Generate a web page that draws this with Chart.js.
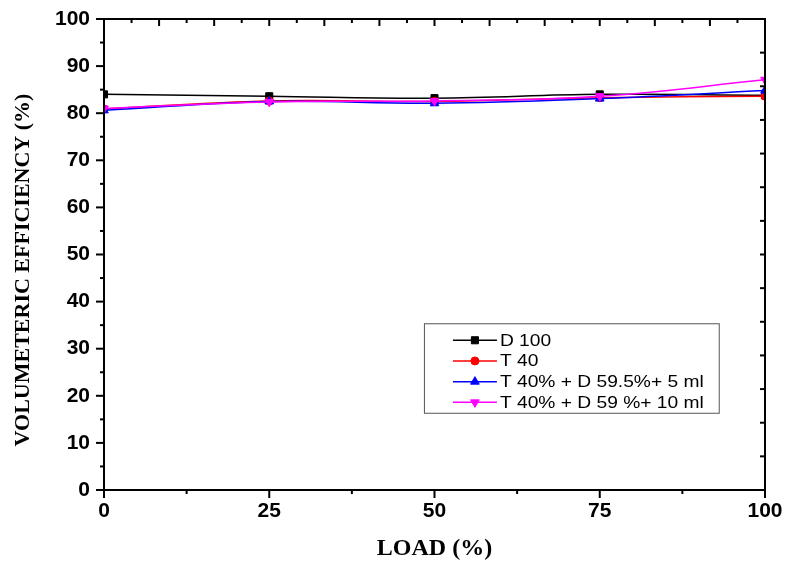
<!DOCTYPE html>
<html>
<head>
<meta charset="utf-8">
<title>Volumetric efficiency vs load</title>
<script src="https://cdn.jsdelivr.net/npm/chart.js@4.4.1/dist/chart.umd.min.js"></script>
<style>
    html, body { margin: 0; padding: 0; background: #fff; }
    #wrap { width: 785px; height: 562px; }
</style>
</head>
<body>
<div id="wrap"><canvas id="veChart" width="785" height="562"></canvas></div>
<script>
// Data
const loads = [0, 25, 50, 75, 100];
const d100 = [84.0, 83.6, 83.2, 84.0, 83.8];
const t40 = [80.9, 82.6, 82.5, 83.3, 83.6];
const t40d595 = [80.6, 82.5, 82.1, 83.1, 84.8];
const t40d59 = [81.0, 82.4, 82.6, 83.6, 87.1];

const seriesLabels = ['D 100', 'T 40', 'T 40% + D 59.5%+ 5 ml', 'T 40% + D 59 %+ 10 ml'];
const xTicks = [0, 25, 50, 75, 100];
const yTicks = [0, 10, 20, 30, 40, 50, 60, 70, 80, 90, 100];
const yTitle = 'VOLUMETERIC EFFICIENCY (%)';

function toPoints(values) {
    return loads.map((x, i) => ({ x: x, y: values[i] }));
}

function makeSet(label, values, color, style, radius, rotation, order) {
    return {
        label: label,
        data: toPoints(values),
        borderColor: color,
        backgroundColor: color,
        borderWidth: 1.5,
        pointStyle: style,
        pointRadius: radius,
        pointRotation: rotation,
        pointBorderWidth: 1,
        pointBackgroundColor: color,
        pointBorderColor: color,
        tension: 0.4,
        order: order
    };
}

// don't let tick label overflow push the plot area in
function fixPadding(scale) {
    scale.paddingTop = 0;
    scale.paddingBottom = 0;
    scale.paddingLeft = 0;
    scale.paddingRight = 0;
}

// Frame, tick marks, y title and the boxed legend inside the plot
const framePlugin = {
    id: 'frame',
    afterDraw(chart) {
        const ctx = chart.ctx;
        const a = chart.chartArea;
        const xs = chart.scales.x;
        const ys = chart.scales.y;
        ctx.save();
        ctx.strokeStyle = '#000';
        ctx.lineWidth = 2;

        // ticks on left axis (outward)
        for (let v = 0; v <= 100; v += 5) {
            const py = ys.getPixelForValue(v);
            const len = v % 10 === 0 ? 8 : 4;
            ctx.beginPath();
            ctx.moveTo(a.left, py);
            ctx.lineTo(a.left - len, py);
            ctx.stroke();
        }
        // ticks on bottom axis (outward)
        for (let v = 0; v <= 100; v += 12.5) {
            const px = xs.getPixelForValue(v);
            const len = v % 25 === 0 ? 8 : 4;
            ctx.beginPath();
            ctx.moveTo(px, a.bottom);
            ctx.lineTo(px, a.bottom + len);
            ctx.stroke();
        }
        // top axis ticks (inward)
        for (let k = 1; k < 24; k++) {
            const px = xs.getPixelForValue(k * 100 / 24);
            const len = k % 2 === 0 ? 7 : 4;
            ctx.beginPath();
            ctx.moveTo(px, a.top);
            ctx.lineTo(px, a.top + len);
            ctx.stroke();
        }
        // right axis ticks (inward)
        for (let k = 1; k < 14; k++) {
            const py = ys.getPixelForValue(100 - k * 100 / 14);
            ctx.beginPath();
            ctx.moveTo(a.right, py);
            ctx.lineTo(a.right - 5, py);
            ctx.stroke();
        }
        ctx.strokeRect(a.left, a.top, a.right - a.left, a.bottom - a.top);

        // y axis title
        ctx.save();
        ctx.translate(23, 270);
        ctx.rotate(-Math.PI / 2);
        ctx.fillStyle = '#000';
        ctx.font = 'bold 22px "Liberation Serif", "Times New Roman", serif';
        ctx.textAlign = 'center';
        ctx.textBaseline = 'middle';
        ctx.fillText(yTitle, 0, 0);
        ctx.restore();

        // legend box
        const bx = xs.getPixelForValue(48.4);
        const bw = xs.getPixelForValue(93.0) - bx;
        const by = ys.getPixelForValue(35.4);
        const bh = ys.getPixelForValue(16.4) - by;
        ctx.fillStyle = '#fff';
        ctx.fillRect(bx, by, bw, bh);
        ctx.lineWidth = 1;
        ctx.strokeStyle = '#555';
        ctx.strokeRect(bx + 0.5, by + 0.5, bw, bh);

        chart.data.datasets.forEach((ds, i) => {
            const rowY = by + 17 + i * 20.7;
            const lx = bx + 29;
            ctx.strokeStyle = ds.borderColor;
            ctx.lineWidth = 1.5;
            ctx.beginPath();
            ctx.moveTo(lx, rowY);
            ctx.lineTo(lx + 44, rowY);
            ctx.stroke();
            ctx.fillStyle = ds.borderColor;
            ctx.lineWidth = 1;
            Chart.helpers.drawPoint(ctx, {
                pointStyle: ds.pointStyle,
                rotation: ds.pointRotation,
                radius: ds.pointRadius,
                borderWidth: 1
            }, lx + 22, rowY);
            ctx.save();
            ctx.translate(lx + 47, rowY);
            ctx.scale(1.2, 1);
            ctx.fillStyle = '#000';
            ctx.font = '16px "Liberation Sans", Arial, sans-serif';
            ctx.textBaseline = 'middle';
            ctx.textAlign = 'left';
            ctx.fillText(ds.label, 0, 1);
            ctx.restore();
        });
        ctx.restore();
    }
};

const tickFont = { family: '"Liberation Sans", Arial, sans-serif', size: 21, weight: 'bold' };

new Chart(document.getElementById('veChart').getContext('2d'), {
    type: 'line',
    data: {
        datasets: [
            makeSet(seriesLabels[0], d100, '#000000', 'rect', 5, 0, 3),
            makeSet(seriesLabels[1], t40, '#ff0000', 'circle', 4, 0, 2),
            makeSet(seriesLabels[2], t40d595, '#0000ff', 'triangle', 5, 0, 1),
            makeSet(seriesLabels[3], t40d59, '#ff00ff', 'triangle', 5, 180, 0)
        ]
    },
    options: {
        responsive: false,
        animation: false,
        layout: { padding: { top: 19, right: 20, left: 0, bottom: 0 } },
        plugins: {
            legend: { display: false },
            tooltip: { enabled: false }
        },
        scales: {
            x: {
                type: 'linear',
                min: 0,
                max: 100,
                afterFit: scale => { scale.height = 72; fixPadding(scale); },
                afterBuildTicks: scale => { scale.ticks = xTicks.map(v => ({ value: v })); },
                grid: { display: false, drawTicks: false },
                border: { display: false },
                ticks: { color: '#000', font: tickFont, padding: 9, maxRotation: 0 },
                title: {
                    display: true,
                    text: 'LOAD (%)',
                    color: '#000',
                    font: { family: '"Liberation Serif", "Times New Roman", serif', weight: 'bold', size: 24, lineHeight: 1 },
                    padding: { top: 0, bottom: 1 }
                }
            },
            y: {
                type: 'linear',
                min: 0,
                max: 100,
                afterFit: scale => { scale.width = 104; fixPadding(scale); },
                afterBuildTicks: scale => { scale.ticks = yTicks.map(v => ({ value: v })); },
                grid: { display: false, drawTicks: false },
                border: { display: false },
                ticks: { color: '#000', font: tickFont, padding: 14 }
            }
        }
    },
    plugins: [framePlugin]
});
</script>
</body>
</html>
